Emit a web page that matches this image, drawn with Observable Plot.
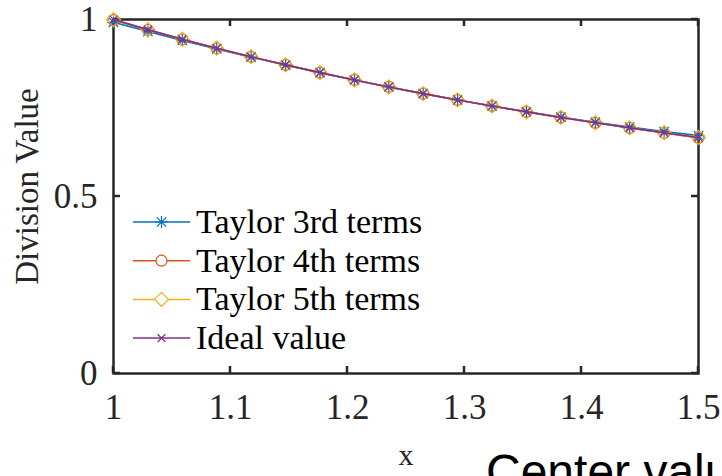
<!DOCTYPE html>
<html>
<head>
<meta charset="utf-8">
<script src="https://cdn.jsdelivr.net/npm/d3@7"></script>
<script src="https://cdn.jsdelivr.net/npm/@observablehq/plot@0.6"></script>
<style>
  html, body { margin: 0; padding: 0; background: #fff; overflow: hidden; width: 722px; height: 476px; }
  #wrap { position: relative; width: 722px; height: 476px; overflow: hidden; }
  #wrap svg { display: block; }
  #note { position: absolute; left: 486px; top: 448px; font: 48px "Liberation Sans", Arial, sans-serif; color: #000; white-space: nowrap; line-height: 1; }
</style>
</head>
<body>
<div id="wrap"></div>
<script>
const xValues = [1.0000, 1.0294, 1.0588, 1.0882, 1.1176, 1.1471, 1.1765, 1.2059, 1.2353, 1.2647, 1.2941, 1.3235, 1.3529, 1.3824, 1.4118, 1.4412, 1.4706, 1.5000];
const taylor3 = [0.9920, 0.9661, 0.9411, 0.9169, 0.8937, 0.8713, 0.8498, 0.8292, 0.8095, 0.7907, 0.7728, 0.7557, 0.7395, 0.7243, 0.7099, 0.6964, 0.6837, 0.6720];
const taylor4 = [0.9984, 0.9705, 0.9439, 0.9187, 0.8946, 0.8718, 0.8500, 0.8293, 0.8095, 0.7907, 0.7727, 0.7555, 0.7391, 0.7233, 0.7081, 0.6935, 0.6793, 0.6656];
const taylor5 = [0.9997, 0.9713, 0.9444, 0.9189, 0.8947, 0.8718, 0.8500, 0.8293, 0.8095, 0.7907, 0.7727, 0.7556, 0.7391, 0.7234, 0.7084, 0.6939, 0.6801, 0.6669];
const ideal   = [1.0000, 0.9714, 0.9444, 0.9189, 0.8947, 0.8718, 0.8500, 0.8293, 0.8095, 0.7907, 0.7727, 0.7556, 0.7391, 0.7234, 0.7083, 0.6939, 0.6800, 0.6667];
const seriesNames = ["Taylor 3rd terms", "Taylor 4th terms", "Taylor 5th terms", "Ideal value"];
const seriesColors = ["#0072BD", "#D95319", "#EDB120", "#7E2F8E"];
const xTicks = [1, 1.1, 1.2, 1.3, 1.4, 1.5];
const yTicks = [0, 0.5, 1];
const xLabel = "x";
const yLabel = "Division Value";
const annotation = "Center value";

const seriesValues = [taylor3, taylor4, taylor5, ideal];
const data = [];
seriesValues.forEach((ys, i) => ys.forEach((y, k) => data.push({x: xValues[k], y, s: seriesNames[i]})));
const bySeries = name => data.filter(d => d.s === name);

// marker styles (MATLAB: *, o, diamond, x)
const markerSpecs = [
  [{symbol: "plus", r: 3.9}, {symbol: "times", r: 4.3}],
  [{symbol: "circle", r: 5.5}],
  [{symbol: "diamond2", r: 6.3}],
  [{symbol: "times", r: 3.6}]
];
const symbolMap = {plus: d3.symbolPlus, times: d3.symbolTimes, circle: d3.symbolCircle, diamond2: d3.symbolDiamond2};

const axisColor = "#262626";
const serif = "'Liberation Serif', 'Times New Roman', serif";
const fmt = d => String(+d.toFixed(2));

const marks = [
  Plot.frame({stroke: axisColor, strokeWidth: 2.5}),
  Plot.axisX(xTicks, {anchor: "bottom", tickSize: 0, tickPadding: 21, color: axisColor, tickFormat: fmt, fontSize: 35, label: null}),
  Plot.axisY(yTicks, {anchor: "left", tickSize: 0, tickPadding: 16, color: axisColor, tickFormat: fmt, fontSize: 35, label: null}),
  Plot.text([yLabel], {frameAnchor: "left", dx: -86, dy: -10, rotate: -90, fontSize: 33, textAnchor: "middle", lineAnchor: "middle", fill: axisColor}),
  Plot.text([xLabel], {frameAnchor: "bottom", dy: 82, fontSize: 30, textAnchor: "middle", lineAnchor: "middle", fill: axisColor})
];
seriesNames.forEach((name, i) => {
  marks.push(Plot.line(bySeries(name), {x: "x", y: "y", stroke: seriesColors[i], strokeWidth: 1.6}));
  markerSpecs[i].forEach(m => marks.push(Plot.dot(bySeries(name), {x: "x", y: "y", symbol: m.symbol, r: m.r, stroke: seriesColors[i], fill: "none", strokeWidth: 1.2})));
});

const chart = Plot.plot({
  width: 722,
  height: 476,
  marginLeft: 113,
  marginRight: 24,
  marginTop: 19,
  marginBottom: 103,
  style: {fontFamily: serif, fontSize: "35px", background: "#fff", color: axisColor, overflow: "visible"},
  x: {type: "linear", domain: [1, 1.5]},
  y: {type: "linear", domain: [0, 1]},
  marks
});

const svg = d3.select(chart);
const sx = chart.scale("x"), sy = chart.scale("y");
const [x0, x1] = sx.range, [y0, y1] = sy.range; // y0 bottom, y1 top
const tickLen = 7;

// inward ticks on all four sides (MATLAB box style), placed beneath the data
const tg = svg.append("g").attr("stroke", axisColor).attr("stroke-width", 2.5);
xTicks.forEach(v => {
  const px = sx.apply(v);
  tg.append("line").attr("x1", px).attr("x2", px).attr("y1", y0).attr("y2", y0 - tickLen);
  tg.append("line").attr("x1", px).attr("x2", px).attr("y1", y1).attr("y2", y1 + tickLen);
});
yTicks.forEach(v => {
  const py = sy.apply(v);
  tg.append("line").attr("y1", py).attr("y2", py).attr("x1", x0).attr("x2", x0 + tickLen);
  tg.append("line").attr("y1", py).attr("y2", py).attr("x1", x1).attr("x2", x1 - tickLen);
});
tg.lower();

// legend (no box), drawn inside the axes at the lower left
const leg = svg.append("g").attr("transform", `translate(${x0 + 20},222)`);
const rowH = 38.7;
seriesNames.forEach((name, i) => {
  const g = leg.append("g").attr("transform", `translate(0,${i * rowH})`);
  g.append("line").attr("x1", 0).attr("x2", 57).attr("y1", 0).attr("y2", 0)
    .attr("stroke", seriesColors[i]).attr("stroke-width", 1.5);
  markerSpecs[i].forEach(m => {
    g.append("path")
      .attr("transform", "translate(28.5,0)")
      .attr("d", d3.symbol(symbolMap[m.symbol], m.r * m.r * Math.PI)())
      .attr("fill", m.symbol === "circle" || m.symbol === "diamond2" ? "#fff" : "none")
      .attr("stroke", seriesColors[i]).attr("stroke-width", 1.2);
  });
  g.append("text").attr("x", 63).attr("y", 0).attr("dy", "0.32em")
    .attr("text-anchor", "start")
    .attr("font-family", serif).attr("font-size", 34).attr("fill", "#000")
    .text(name);
});

const wrap = document.getElementById("wrap");
wrap.appendChild(chart);
const note = document.createElement("div");
note.id = "note";
note.textContent = annotation;
wrap.appendChild(note);
</script>
</body>
</html>
